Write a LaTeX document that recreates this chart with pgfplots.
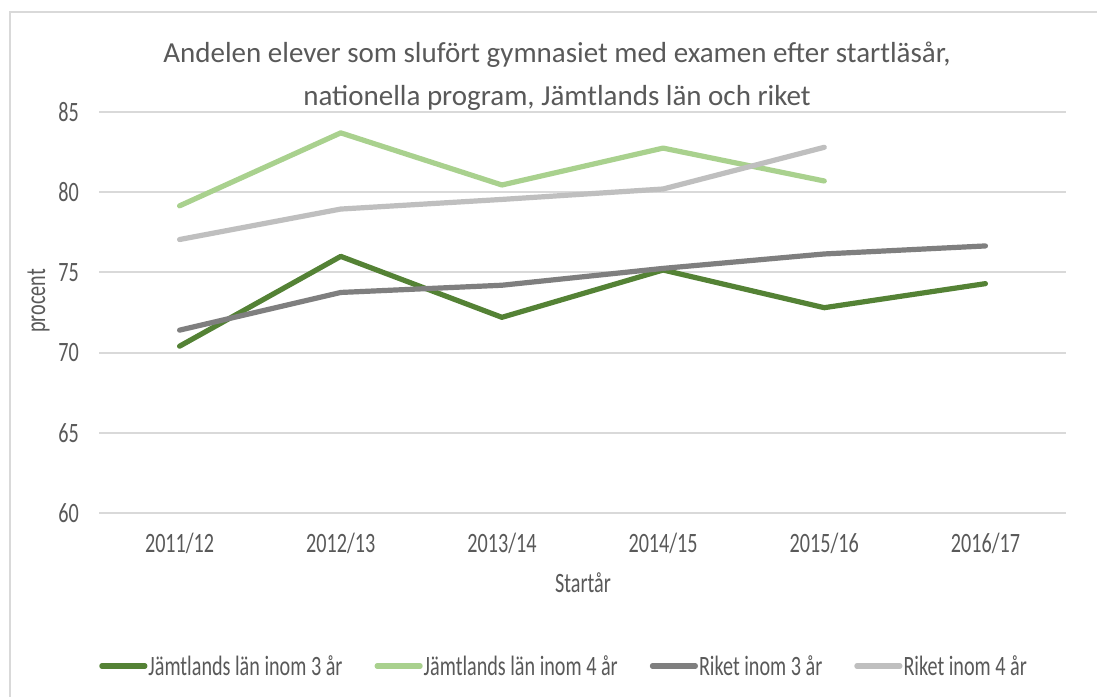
\documentclass[border=0pt]{standalone}
\usepackage{fontspec}
\setmainfont{Carlito}[FakeStretch=0.72]
\newfontfamily\titlefont{Carlito}
\usepackage{pgfplots}
\pgfplotsset{compat=1.18}
\definecolor{dgreen}{HTML}{548235}
\definecolor{lgreen}{HTML}{A9D18E}
\definecolor{dgray}{HTML}{7F7F7F}
\definecolor{lgray}{HTML}{BFBFBF}
\definecolor{gridc}{HTML}{D9D9D9}
\definecolor{txt}{HTML}{595959}
\begin{document}
\begin{tikzpicture}[x=1pt,y=-1pt]
\useasboundingbox (0,0) rectangle (1097,696);
\fill[white] (0,0) rectangle (1097,696);
\draw[gridc, line width=2pt] (10,700) -- (10,12) -- (1100,12);
\begin{axis}[
  at={(99pt,-513pt)}, anchor=south west,
  width=967pt, height=401pt, scale only axis,
  xmin=-0.5, xmax=5.5, ymin=60, ymax=85,
  xtick={0,...,5},
  xticklabels={2011/12,2012/13,2013/14,2014/15,2015/16,2016/17},
  ytick={60,65,...,85},
  ymajorgrids, grid style={gridc, line width=2pt},
  axis line style={draw=none}, tick style={draw=none},
  /pgf/number format/assume math mode=true,
  ticklabel style={font=\fontsize{28}{34}\selectfont, text=txt},
  yticklabel style={anchor=east, inner sep=0pt, xshift=-20pt},
  xticklabel style={anchor=base, inner sep=0pt, yshift=-39pt},
  legend columns=4,
  legend style={at={(0.4804,-0.3815)}, anchor=center, draw=none, fill=none,
    font=\fontsize{28}{34}\selectfont, text=txt,
    nodes={inner xsep=1pt, inner ysep=0pt},
    /tikz/every even column/.append style={column sep=31pt}},
  legend image code/.code={\draw[#1, line cap=round] (2.5pt,0pt) -- (45.5pt,0pt);},
  every axis plot/.append style={line width=5.2pt, line cap=round, line join=round},
  clip=false,
]
\addplot[dgreen] coordinates {(0,70.4) (1,76.0) (2,72.2) (3,75.15) (4,72.8) (5,74.3)};
\addlegendentry{Jämtlands län inom 3 år}
\addplot[lgreen] coordinates {(0,79.15) (1,83.7) (2,80.45) (3,82.75) (4,80.7)};
\addlegendentry{Jämtlands län inom 4 år}
\addplot[dgray] coordinates {(0,71.4) (1,73.75) (2,74.2) (3,75.25) (4,76.15) (5,76.65)};
\addlegendentry{Riket inom 3 år}
\addplot[lgray] coordinates {(0,77.05) (1,78.95) (2,79.55) (3,80.2) (4,82.8)};
\addlegendentry{Riket inom 4 år}
\end{axis}
\node[anchor=base, text=txt, font=\titlefont\fontsize{29}{35}\selectfont] at (557,62) {Andelen elever som slufört gymnasiet med examen efter startläsår,};
\node[anchor=base, text=txt, font=\titlefont\fontsize{29}{35}\selectfont] at (557,105) {nationella program, Jämtlands län och riket};
\node[anchor=base, text=txt, font=\fontsize{28}{34}\selectfont] at (583,592) {Startår};
\node[anchor=base, rotate=90, text=txt, font=\fontsize{28}{34}\selectfont] at (45,301) {procent};
\end{tikzpicture}
\end{document}
